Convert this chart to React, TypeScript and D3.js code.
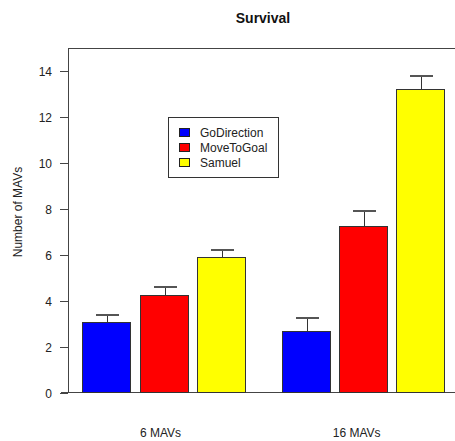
import React, { useEffect, useRef } from "react";
import * as d3 from "d3";

// chart data
const groups = ["6 MAVs", "16 MAVs"];
const series = ["GoDirection", "MoveToGoal", "Samuel"];
const colors = ["#0000ff", "#ff0000", "#ffff00"];
const goDirection = [3.07, 2.68];
const moveToGoal = [4.27, 7.26];
const samuel = [5.92, 13.22];
const goDirectionErr = [0.37, 0.63];
const moveToGoalErr = [0.36, 0.69];
const samuelErr = [0.34, 0.63];
const yTicks = [0, 2, 4, 6, 8, 10, 12, 14];

const W = 455;
const H = 441;
const FONT = "'Liberation Sans', Arial, sans-serif";

function App() {
  const svgRef = useRef<SVGSVGElement>(null);

  useEffect(() => {
    const svg = d3.select(svgRef.current);
    svg.selectAll("*").remove();

    const values = [goDirection, moveToGoal, samuel];
    const errs = [goDirectionErr, moveToGoalErr, samuelErr];
    const rows = groups.flatMap((g, gi) =>
      series.map((s, si) => ({
        group: g,
        name: s,
        value: values[si][gi],
        err: errs[si][gi],
        color: colors[si],
      }))
    );

    const left = 68;
    const top = 48.5;
    const bottom = 392.5;

    const y = d3.scaleLinear().domain([0, 15]).range([bottom, top]);

    const x0 = d3.scaleBand()
      .domain(groups)
      .range([63.8, 462.8])
      .paddingInner(0.185)
      .paddingOuter(0.0925);

    const x1 = d3.scaleBand()
      .domain(series)
      .range([0, x0.bandwidth()])
      .paddingInner(0.165);

    const axisColor = "#444";
    const textColor = "#222";

    // title
    svg.append("text")
      .attr("x", 263)
      .attr("y", 23)
      .attr("text-anchor", "middle")
      .style("font-family", FONT)
      .style("font-size", "14px")
      .style("font-weight", "bold")
      .attr("fill", "#111")
      .text("Survival");

    // frame lines: top, left, bottom
    svg.append("line")
      .attr("x1", left).attr("x2", W)
      .attr("y1", top).attr("y2", top)
      .attr("stroke", axisColor);
    svg.append("line")
      .attr("x1", left + 0.5).attr("x2", left + 0.5)
      .attr("y1", top).attr("y2", bottom)
      .attr("stroke", axisColor);
    svg.append("line")
      .attr("x1", 61).attr("x2", W)
      .attr("y1", bottom).attr("y2", bottom)
      .attr("stroke", axisColor);

    // y ticks
    const yAxis = svg.append("g");
    yTicks.forEach(t => {
      const yy = Math.round(y(t)) + 0.5;
      yAxis.append("line")
        .attr("x1", 60).attr("x2", left)
        .attr("y1", yy).attr("y2", yy)
        .attr("stroke", axisColor);
      yAxis.append("text")
        .attr("x", 52)
        .attr("y", yy + 4.5)
        .attr("text-anchor", "end")
        .style("font-family", FONT)
        .style("font-size", "12px")
        .attr("fill", textColor)
        .text(t);
    });

    // y label
    svg.append("text")
      .attr("transform", "translate(22,212) rotate(-90)")
      .attr("text-anchor", "middle")
      .style("font-family", FONT)
      .style("font-size", "12px")
      .attr("fill", textColor)
      .text("Number of MAVs");

    // bars
    const g = svg.append("g").style("shape-rendering", "crispEdges");
    rows.forEach(d => {
      const bx = Math.round(x0(d.group)! + x1(d.name)!) + 0.5;
      const bw = Math.round(x1.bandwidth());
      const cx = Math.round(bx + bw / 2) + 0.5;
      const yTop = Math.round(y(d.value)) + 0.5;
      const yErr = Math.round(y(d.value + d.err)) + 0.5;
      // error bar
      g.append("line")
        .attr("x1", cx).attr("x2", cx)
        .attr("y1", yTop).attr("y2", yErr)
        .attr("stroke", "#333");
      g.append("line")
        .attr("x1", cx - 11.5).attr("x2", cx + 11.5)
        .attr("y1", yErr).attr("y2", yErr)
        .attr("stroke", "#555")
        .attr("stroke-width", 2);
      g.append("rect")
        .attr("x", bx)
        .attr("y", yTop)
        .attr("width", bw)
        .attr("height", bottom - yTop)
        .attr("fill", d.color)
        .attr("stroke", "#333");
    });

    // x labels
    groups.forEach(grp => {
      svg.append("text")
        .attr("x", x0(grp)! + x0.bandwidth() / 2 + 17.5)
        .attr("y", 437)
        .attr("text-anchor", "end")
        .style("font-family", FONT)
        .style("font-size", "12px")
        .attr("fill", textColor)
        .text(grp);
    });

    // legend
    const lg = svg.append("g").attr("transform", "translate(168.5,117.5)");
    lg.append("rect")
      .attr("width", 110)
      .attr("height", 60)
      .attr("fill", "#fff")
      .attr("stroke", "#333");
    series.forEach((s, i) => {
      const ly = 15 + i * 15;
      lg.append("rect")
        .attr("x", 11)
        .attr("y", ly - 4)
        .attr("width", 10)
        .attr("height", 8)
        .attr("fill", colors[i])
        .attr("stroke", "#222");
      lg.append("text")
        .attr("x", 31.5)
        .attr("y", ly + 4.5)
        .style("font-family", FONT)
        .style("font-size", "12px")
        .attr("fill", textColor)
        .text(s);
    });
  }, []);

  return (
    <svg
      ref={svgRef}
      width={W}
      height={H}
      style={{ position: "absolute", left: 0, top: 0, background: "#fff" }}
    />
  );
}

export default App;
